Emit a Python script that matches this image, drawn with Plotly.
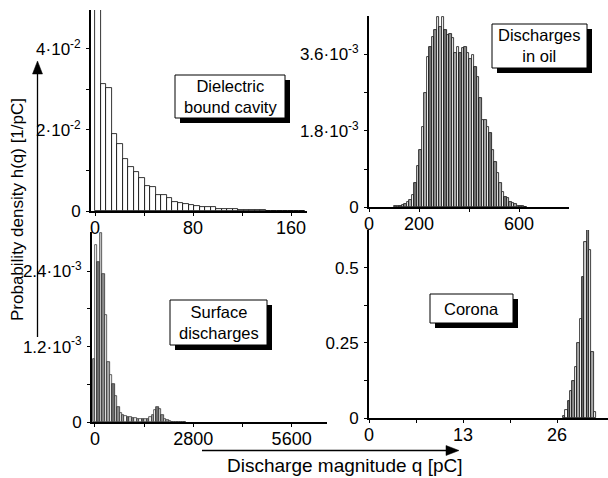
import plotly.graph_objects as go

W, H = 608, 478
FONT = "Liberation Sans, Arial, sans-serif"

# ---------------- data ----------------
# Dielectric bound cavity (bin width 4.5 pC, starting at 0)
cavity_bin = 4.5
cavity_h = [0.0500, 0.0313, 0.0304, 0.0189, 0.0165, 0.0129, 0.0109, 0.0097, 0.0081,
            0.0062, 0.0059, 0.0040, 0.0040, 0.0031, 0.0023, 0.0019, 0.0018, 0.0015,
            0.0012, 0.0011, 0.0010, 0.0010, 0.0006, 0.0004, 0.0006, 0.0005, 0.0003,
            0.0002, 0.0003, 0.0002, 0.0002, 0.0001, 0.0001, 0.0001, 0.0001, 0.0001,
            0.0001, 0.0001]

# Discharges in oil (bin width 10 pC, starting at 100)
oil_bin = 10
oil_start = 100
oil_h_e3 = [0.02, 0.03, 0.04, 0.05, 0.08, 0.12, 0.18, 0.29, 0.56, 0.96, 1.35, 1.90, 2.68,
            3.54, 3.78, 4.01, 4.17, 4.47, 4.25, 4.47, 4.17, 4.05, 4.08, 3.98, 3.62, 3.78,
            3.62, 3.74, 3.78, 3.62, 3.50, 3.58, 3.31, 3.07, 2.56, 2.05, 2.05, 1.90, 1.74,
            1.35, 1.07, 0.80, 0.56, 0.37, 0.25, 0.21, 0.13, 0.09, 0.07, 0.04, 0.03, 0.02,
            0.01]

# Surface discharges (bin width 70 pC, starting at -70)
surf_bin = 70
surf_start = -70
surf_h_e3 = [1.00, 2.81, 2.55, 3.00, 2.36, 1.70, 0.95, 0.75, 0.60, 0.42, 0.25, 0.15, 0.12,
             0.10, 0.09, 0.08, 0.07, 0.07, 0.06, 0.06, 0.06, 0.05, 0.06, 0.08, 0.12, 0.19,
             0.25, 0.21, 0.12, 0.06, 0.03, 0.02, 0.01, 0.01, 0.005, 0.005, 0.01, 0.005]

# Corona (bin width 0.33 pC, starting at 26.8)
cor_bin = 0.33
cor_start = 26.8
cor_h = [0.007, 0.029, 0.056, 0.09, 0.125, 0.17, 0.25, 0.33, 0.47, 0.585, 0.625, 0.56,
         0.22, 0.02]

# tick labels
tl_yvals = [0, 0.02, 0.04]
tl_ytext = ["0", "2\u00b710<sup>-2</sup>", "4\u00b710<sup>-2</sup>"]
tl_xvals = [0, 80, 160]
tr_yvals = [0, 1.8e-3, 3.6e-3]
tr_ytext = ["0", "1.8\u00b710<sup>-3</sup>", "3.6\u00b710<sup>-3</sup>"]
tr_xvals = [0, 200, 600]
bl_yvals = [0, 1.2e-3, 2.4e-3]
bl_ytext = ["0", "1.2\u00b710<sup>-3</sup>", "2.4\u00b710<sup>-3</sup>"]
bl_xvals = [0, 2800, 5600]
br_yvals = [0, 0.25, 0.5]
br_ytext = ["0", "0.25", "0.5"]
br_xvals = [0, 13, 26]

labels = {
    "cavity": "Dielectric<br>bound cavity",
    "oil": "Discharges<br>in oil",
    "surface": "Surface<br>discharges",
    "corona": "Corona",
}
x_title = "Discharge magnitude q [pC]"
y_title = "Probability density h(q) [1/pC]"

# ---------------- helpers ----------------
def px(x):
    return x / W


def py(y):
    return 1 - y / H


def centers(start, width, n):
    return [start + width * (i + 0.5) for i in range(n)]


palette = ["#a8a8a8", "#ffffff", "#707070", "#d0d0d0", "#8c8c8c", "#f0f0f0"]


def cyc(n):
    return [palette[i % len(palette)] for i in range(n)]


fig = go.Figure()

fig.add_trace(go.Bar(
    x=centers(0, cavity_bin, len(cavity_h)), y=cavity_h, width=cavity_bin,
    marker=dict(color="white", line=dict(color="black", width=0.8)),
    xaxis="x", yaxis="y", showlegend=False))

fig.add_trace(go.Bar(
    x=centers(oil_start, oil_bin, len(oil_h_e3)), y=[v * 1e-3 for v in oil_h_e3], width=oil_bin,
    marker=dict(color=cyc(len(oil_h_e3)), line=dict(color="#111111", width=0.8)),
    xaxis="x2", yaxis="y2", showlegend=False))

fig.add_trace(go.Bar(
    x=centers(surf_start, surf_bin, len(surf_h_e3)), y=[v * 1e-3 for v in surf_h_e3], width=surf_bin,
    marker=dict(color=cyc(len(surf_h_e3)), line=dict(color="#222222", width=0.7)),
    xaxis="x3", yaxis="y3", showlegend=False))

fig.add_trace(go.Bar(
    x=centers(cor_start, cor_bin, len(cor_h)), y=cor_h, width=cor_bin,
    marker=dict(color=cyc(len(cor_h)), line=dict(color="#111111", width=0.8)),
    xaxis="x4", yaxis="y4", showlegend=False))

xtickfont = dict(family=FONT, size=18, color="black")
ytickfont = dict(family=FONT, size=17, color="black")


def xax(dom, rng, vals, anchor, minor):
    return dict(domain=dom, range=rng, tickvals=vals, ticktext=[str(v) for v in vals],
                anchor=anchor, showline=True, linecolor="black", linewidth=1.8,
                ticks="outside", ticklen=3, tickcolor="black", showgrid=False,
                zeroline=False, tickfont=xtickfont, automargin=False,
                ticklabelstandoff=-4,
                minor=dict(tickvals=minor, ticks="outside", ticklen=3, tickcolor="black"))


def yax(dom, rng, vals, text, anchor, minor):
    return dict(domain=dom, range=rng, tickvals=vals, ticktext=text, anchor=anchor,
                showline=True, linecolor="black", linewidth=1.8, ticks="outside",
                ticklen=3, tickcolor="black", showgrid=False, zeroline=False,
                tickfont=ytickfont, automargin=False, ticklabelstandoff=2,
                minor=dict(tickvals=minor, ticks="outside", ticklen=3, tickcolor="black"))


fig.update_layout(
    template="none",
    width=W, height=H, autosize=False,
    margin=dict(l=0, r=0, t=0, b=0, pad=0),
    paper_bgcolor="white", plot_bgcolor="white",
    bargap=0, barmode="overlay",
    font=dict(family=FONT, color="black"),
    xaxis=xax([px(91), px(307)], [-3.3, 173], tl_xvals, "y", [40, 120]),
    yaxis=yax([py(211), py(10)], [0, 0.0496], tl_yvals, tl_ytext, "x", [0.01, 0.03]),
    xaxis2=xax([px(369), px(569)], [0, 800], tr_xvals, "y2", [400]),
    yaxis2=yax([py(207.3), py(16)], [0, 4.5e-3], tr_yvals, tr_ytext, "x2", [0.9e-3, 2.7e-3]),
    xaxis3=xax([px(92), px(327)], [-85, 6607], bl_xvals, "y3", [1400, 4200]),
    yaxis3=yax([py(422.3), py(232)], [0, 3.02e-3], bl_yvals, bl_ytext, "x3", [0.6e-3, 1.8e-3]),
    xaxis4=xax([px(369), px(608)], [0, 33.05], br_xvals, "y4", [6.5, 19.5]),
    yaxis4=yax([py(418.3), py(230)], [0, 0.625], br_yvals, br_ytext, "x4", [0.125, 0.375]),
)

# ---------- label boxes with drop shadows ----------
boxes = [
    ("cavity", 175, 75, 285, 118),
    ("oil", 492, 24, 587, 68),
    ("surface", 170, 300, 267, 345),
    ("corona", 430, 294, 513, 323),
]
shapes = []
annotations = []
for key, x0, y0, x1, y1 in boxes:
    shapes.append(dict(type="rect", xref="paper", yref="paper",
                       x0=px(x0 + 5), x1=px(x1 + 5), y0=py(y1 + 5), y1=py(y0 + 5),
                       fillcolor="black", line=dict(width=0), layer="above"))
    shapes.append(dict(type="rect", xref="paper", yref="paper",
                       x0=px(x0), x1=px(x1), y0=py(y1), y1=py(y0),
                       fillcolor="white", line=dict(color="black", width=1), layer="above"))
    annotations.append(dict(xref="paper", yref="paper", x=px((x0 + x1) / 2), y=py((y0 + y1) / 2),
                            text=labels[key], showarrow=False, xanchor="center", yanchor="middle",
                            align="center", font=dict(family=FONT, size=16.5, color="black")))

# ---------- axis arrows ----------
shapes.append(dict(type="line", xref="paper", yref="paper", x0=px(37.5), x1=px(37.5),
                   y0=py(337), y1=py(72), line=dict(color="black", width=1.3)))
shapes.append(dict(type="path", xref="paper", yref="paper",
                   path=f"M {px(37.5)} {py(61)} L {px(32.5)} {py(74)} L {px(42.5)} {py(74)} Z",
                   fillcolor="black", line=dict(color="black", width=0.5)))
shapes.append(dict(type="line", xref="paper", yref="paper", x0=px(202), x1=px(448),
                   y0=py(450.5), y1=py(450.5), line=dict(color="black", width=1.3)))
shapes.append(dict(type="path", xref="paper", yref="paper",
                   path=f"M {px(459)} {py(450.5)} L {px(446)} {py(445.5)} L {px(446)} {py(455.5)} Z",
                   fillcolor="black", line=dict(color="black", width=0.5)))

annotations.append(dict(xref="paper", yref="paper", x=px(345), y=py(465), text=x_title,
                        showarrow=False, xanchor="center", yanchor="middle",
                        font=dict(family=FONT, size=19, color="black")))
annotations.append(dict(xref="paper", yref="paper", x=px(17), y=py(210), text=y_title,
                        showarrow=False, xanchor="center", yanchor="middle", textangle=-90,
                        font=dict(family=FONT, size=17, color="black")))

fig.update_layout(shapes=shapes, annotations=annotations)

fig.write_html("out.html")
